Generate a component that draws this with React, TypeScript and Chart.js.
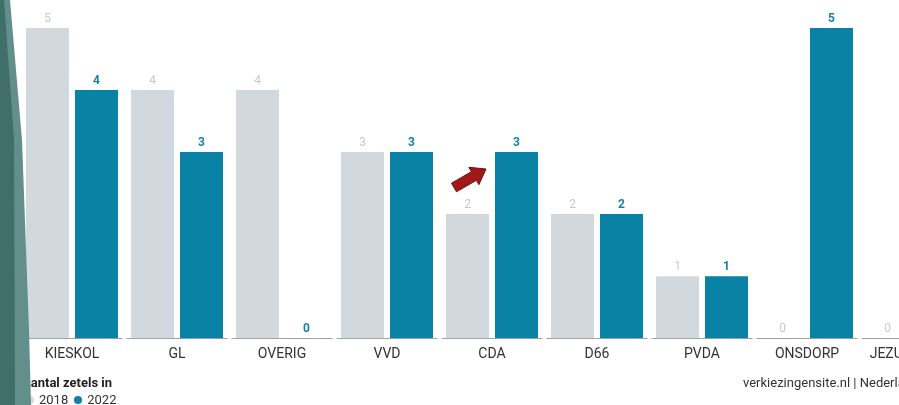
import React, { useEffect, useRef } from "react";
import { Chart, registerables } from "chart.js";

Chart.register(...registerables);

const categories = ["KIESKOL", "GL", "OVERIG", "VVD", "CDA", "D66", "PVDA", "ONSDORP", "JEZUS LEEFT"];
const seats2018 = [5, 4, 4, 3, 2, 2, 1, 0, 0];
const seats2022 = [4, 3, 0, 3, 3, 2, 1, 5, 1];
const seriesLabels = ["2018", "2022"];
const yMin = 0;
const yMax = 5;

const COLOR_2018 = "#d1d9de";
const COLOR_2022 = "#0a82a6";
const LABEL_2018 = "#c3cace";
const LABEL_2022 = "#1a80a6";
const FONT = "Roboto, 'Noto Sans', sans-serif";

const baselinePlugin = {
  id: "segBaseline",
  beforeDatasetsDraw(chart: any) {
    const x = chart.scales.x;
    const y = chart.scales.y;
    const n = chart.data.labels.length;
    const step = (x.right - x.left) / n;
    const yy = Math.round(y.getPixelForValue(0)) + 0.5;
    const ctx = chart.ctx;
    ctx.save();
    ctx.strokeStyle = "#9ea3a7";
    ctx.lineWidth = 1;
    for (let i = 0; i < n; i++) {
      const cx = x.getPixelForValue(i);
      ctx.beginPath();
      ctx.moveTo(cx - step / 2 + 2, yy);
      ctx.lineTo(cx + step / 2 - 2, yy);
      ctx.stroke();
    }
    ctx.restore();
  },
};

const valueLabelPlugin = {
  id: "valueLabels",
  afterDatasetsDraw(chart: any) {
    const ctx = chart.ctx;
    ctx.save();
    ctx.textAlign = "center";
    ctx.textBaseline = "alphabetic";
    chart.data.datasets.forEach((ds: any, di: number) => {
      const meta = chart.getDatasetMeta(di);
      ctx.fillStyle = di === 0 ? LABEL_2018 : LABEL_2022;
      ctx.font = (di === 0 ? "400 " : "700 ") + "12px " + FONT;
      meta.data.forEach((el: any, i: number) => {
        ctx.fillText(String(ds.data[i]), el.x, el.y - 6);
      });
    });
    ctx.restore();
  },
};

function ChartCanvas() {
  const ref = useRef<HTMLCanvasElement | null>(null);
  useEffect(() => {
    if (!ref.current) return;
    const chart = new Chart(ref.current, {
      type: "bar",
      data: {
        labels: categories,
        datasets: [
          {
            label: seriesLabels[0],
            data: seats2018,
            backgroundColor: COLOR_2018,
            categoryPercentage: 0.933,
            barPercentage: 0.878,
          },
          {
            label: seriesLabels[1],
            data: seats2022,
            backgroundColor: COLOR_2022,
            categoryPercentage: 0.933,
            barPercentage: 0.878,
          },
        ],
      },
      options: {
        animation: false,
        responsive: false,
        devicePixelRatio: 1,
        layout: { padding: { left: 19.5, right: 15.5, top: 28, bottom: 1 } },
        plugins: {
          legend: { display: false },
          tooltip: { enabled: false },
        },
        scales: {
          x: {
            grid: { display: false, drawTicks: false },
            border: { display: false },
            ticks: {
              color: "#333333",
              font: { family: FONT, size: 14 },
              padding: 8,
              maxRotation: 0,
              autoSkip: false,
            },
          },
          y: {
            display: false,
            min: yMin,
            max: yMax,
          },
        },
      },
      plugins: [baselinePlugin, valueLabelPlugin],
    });
    return () => chart.destroy();
  }, []);
  return (
    <canvas
      ref={ref}
      width={980}
      height={372}
      style={{ position: "absolute", left: 0, top: 0, width: 980, height: 372 }}
    />
  );
}

export default function App() {
  return (
    <div
      style={{
        position: "fixed",
        left: 0,
        top: 0,
        width: 899,
        height: 405,
        overflow: "hidden",
        background: "#ffffff",
        fontFamily: FONT,
      }}
    >
      <ChartCanvas />
      <svg
        width={899}
        height={405}
        style={{ position: "absolute", left: 0, top: 0, pointerEvents: "none" }}
      >
        <polygon
          points="486,169 468.9,167.3 471.4,171.7 451.5,183.2 456.5,191.8 476.4,180.3 478.9,184.7"
          fill="#a01818"
          stroke="#6e1010"
          strokeWidth={1}
        />
      </svg>
      <div
        style={{
          position: "absolute",
          left: 22,
          top: 375,
          fontSize: 13,
          fontWeight: 700,
          color: "#222",
          lineHeight: "15px",
          whiteSpace: "nowrap",
        }}
      >
        Aantal zetels in
      </div>
      <div
        style={{
          position: "absolute",
          left: 26,
          top: 392,
          fontSize: 13,
          color: "#333",
          lineHeight: "15px",
          whiteSpace: "nowrap",
          display: "flex",
          alignItems: "center",
        }}
      >
        <span style={{ display: "inline-block", width: 8, height: 8, borderRadius: 4, background: COLOR_2018, marginRight: 5 }} />
        <span style={{ marginRight: 6 }}>{seriesLabels[0]}</span>
        <span style={{ display: "inline-block", width: 8, height: 8, borderRadius: 4, background: COLOR_2022, marginRight: 5 }} />
        <span>{seriesLabels[1]}</span>
      </div>
      <div
        style={{
          position: "absolute",
          left: 743,
          top: 375,
          fontSize: 13,
          color: "#333",
          lineHeight: "15px",
          whiteSpace: "nowrap",
        }}
      >
        verkiezingensite.nl | Nederland
      </div>
      <div
        style={{
          position: "absolute",
          left: 0,
          top: 0,
          width: 40,
          height: 405,
          background: "#628f89",
          clipPath: "polygon(0 0, 10px 0, 22px 140px, 29px 330px, 31px 405px, 0 405px)",
        }}
      />
      <div
        style={{
          position: "absolute",
          left: 0,
          top: 0,
          width: 40,
          height: 405,
          background: "#3f6f68",
          clipPath: "polygon(0 0, 4px 0, 14px 140px, 15px 405px, 0 405px)",
        }}
      />
    </div>
  );
}
